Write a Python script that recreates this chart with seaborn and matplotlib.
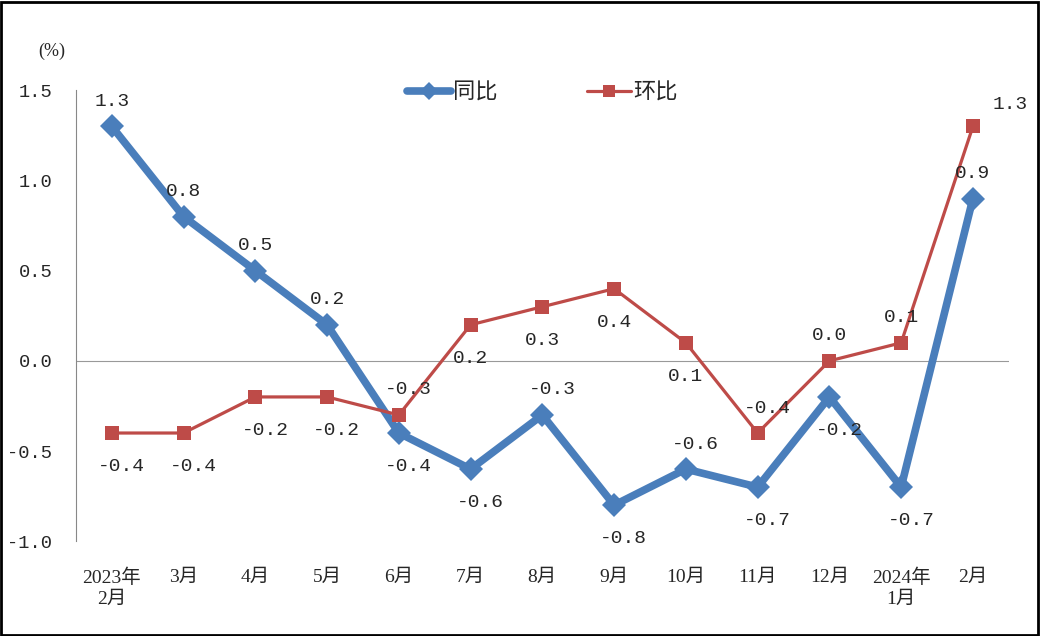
import numpy as np
import pandas as pd
import seaborn as sns
import matplotlib.pyplot as plt
from matplotlib.patches import Rectangle

months = ["2023年\n2月", "3月", "4月", "5月", "6月", "7月", "8月", "9月",
          "10月", "11月", "12月", "2024年\n1月", "2月"]
yoy = [1.3, 0.8, 0.5, 0.2, -0.4, -0.6, -0.3, -0.8, -0.6, -0.7, -0.2, -0.7, 0.9]
mom = [-0.4, -0.4, -0.2, -0.2, -0.3, 0.2, 0.3, 0.4, 0.1, -0.4, 0.0, 0.1, 1.3]

# where each data label sits: 1 above, -1 below
yoy_side = [1, 1, 1, 1, -1, -1, 1, -1, 1, -1, -1, -1, 1]
mom_side = [-1, -1, -1, -1, 1, -1, -1, -1, -1, 1, 1, 1, 1]

blue = "#4a7ebb"
red = "#be4b48"
num_font = ["Liberation Mono", "DejaVu Sans Mono"]
tick_font = ["Liberation Serif", "Noto Sans CJK SC"]

sns.set_style("white")
plt.rcParams["font.family"] = ["Noto Sans CJK SC", "DejaVu Sans"]
plt.rcParams["axes.unicode_minus"] = False

pos = np.arange(len(months)) + 0.5
df = pd.DataFrame({"pos": np.concatenate([pos, pos]),
                   "value": yoy + mom,
                   "series": ["同比"] * len(yoy) + ["环比"] * len(mom)})

fig = plt.figure(figsize=(10.4, 6.36), dpi=100)
ax = fig.add_axes([0.073, 0.149, 0.897, 0.709])

sns.lineplot(data=df[df.series == "同比"], x="pos", y="value", ax=ax, color=blue,
             lw=5.5, marker="D", markersize=12, markeredgewidth=0, label="同比")
sns.lineplot(data=df[df.series == "环比"], x="pos", y="value", ax=ax, color=red,
             lw=2.3, marker="s", markersize=10, markeredgewidth=0, label="环比")

ax.axhline(0, color="#999999", lw=0.8, zorder=0)
ax.set_xlim(0, len(months))
ax.set_ylim(-1.0, 1.5)
ax.set_yticks(np.arange(-1.0, 1.51, 0.5))
ax.set_yticklabels([f"{v:.1f}" for v in np.arange(-1.0, 1.51, 0.5)],
                   family=num_font, fontsize=13.5)
ax.set_xticks(pos)
ax.set_xticklabels(months, family=tick_font, fontsize=14, linespacing=1.25)
ax.tick_params(axis="both", length=0)
ax.tick_params(axis="y", pad=17)
ax.tick_params(axis="x", pad=20)
ax.set_xlabel("")
ax.set_ylabel("")
for s in ["top", "right", "bottom"]:
    ax.spines[s].set_visible(False)
ax.spines["left"].set_color("#888888")
ax.spines["left"].set_linewidth(0.8)


def put_labels(vals, sides, last_shift=None):
    for i, (v, s) in enumerate(zip(vals, sides)):
        dx = 7 if v < 0 else 0
        dy = 18 if s > 0 else -24
        if last_shift is not None and i == len(vals) - 1:
            dx, dy = last_shift
        ax.annotate(f"{v:.1f}", (pos[i], v), xytext=(dx, dy),
                    textcoords="offset points", ha="center", va="center",
                    family=num_font, fontsize=14, annotation_clip=False)


put_labels(yoy, yoy_side)
put_labels(mom, mom_side, last_shift=(27, 16))

ax.legend(loc="center", bbox_to_anchor=(0.5, 0.995), ncol=2, frameon=False,
          fontsize=16, handlelength=2.0, columnspacing=4.0, handletextpad=0.1,
          markerscale=0.8)

fig.text(0.05, 0.92, "(%)", family=["Liberation Serif", "DejaVu Serif"],
         fontsize=13, ha="center", va="center")
fig.patches.append(Rectangle((0.001, 0.002), 0.997, 0.995, transform=fig.transFigure,
                             fill=False, edgecolor="black", lw=2))

fig.savefig("out.png", dpi=100)
